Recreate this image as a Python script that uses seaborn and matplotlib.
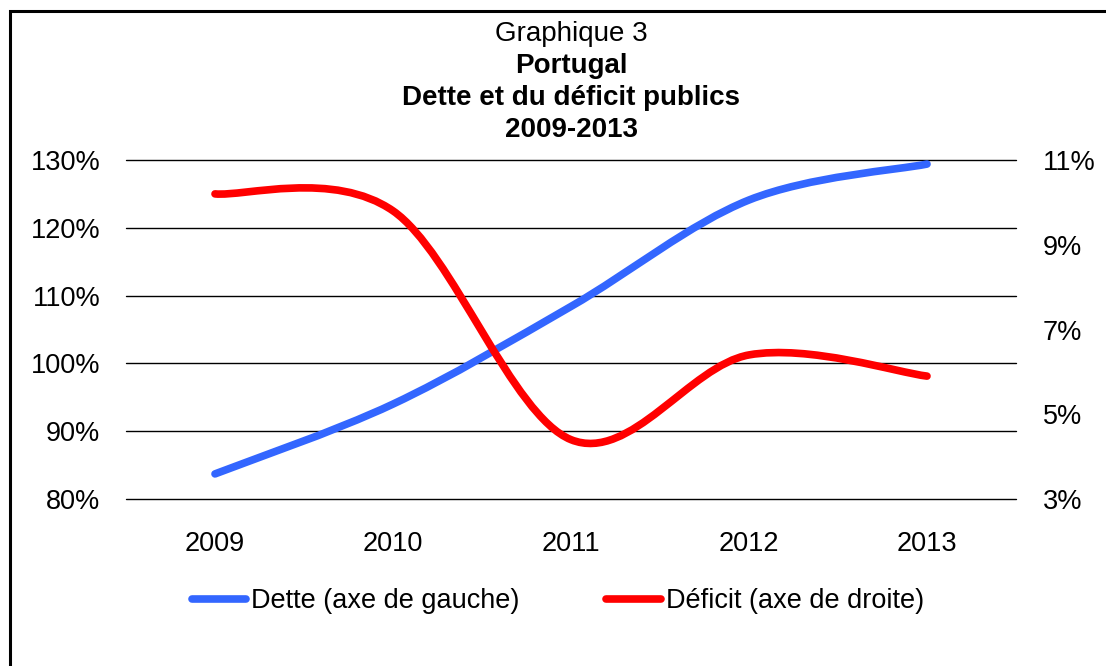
import numpy as np
import matplotlib.pyplot as plt
import seaborn as sns
from matplotlib.path import Path
from matplotlib.patches import PathPatch, Rectangle
from matplotlib.lines import Line2D
from matplotlib.ticker import FuncFormatter

# Portugal, dette et déficit publics (% du PIB)
years = ["2009", "2010", "2011", "2012", "2013"]
dette = [83.7, 94.0, 108.4, 124.1, 129.4]
deficit = [10.2, 9.8, 4.4, 6.4, 5.9]

blue = "#3366FF"
red = "#FF0000"

sns.set_theme(style="white")
plt.rcParams["font.family"] = ["Liberation Sans", "DejaVu Sans"]
plt.rcParams["text.color"] = "black"
plt.rcParams["xtick.color"] = "black"
plt.rcParams["ytick.color"] = "black"


def smooth_path(xs, ys):
    # Excel-like smoothed line: cubic Bezier through the data points
    pts = np.column_stack([xs, ys]).astype(float)
    n = len(pts)
    verts = [pts[0]]
    codes = [Path.MOVETO]
    for i in range(n - 1):
        p0 = pts[max(i - 1, 0)]
        p1 = pts[i]
        p2 = pts[i + 1]
        p3 = pts[min(i + 2, n - 1)]
        verts += [p1 + (p2 - p0) / 6, p2 - (p3 - p1) / 6, p2]
        codes += [Path.CURVE4] * 3
    return Path(verts, codes)


W, H = 1106, 666
fig = plt.figure(figsize=(W / 100, H / 100), dpi=100)
ax = fig.add_axes([126 / W, 1 - 499 / H, 890 / W, 339 / H])
x = np.arange(len(years))

ax.set_xlim(-0.5, len(years) - 0.5)
ax.set_ylim(80, 130)
ax.set_yticks(range(80, 131, 10))
ax.yaxis.set_major_formatter(FuncFormatter(lambda v, p: f"{v:.0f}%"))
ax.set_xticks(x)
ax.set_xticklabels(years)
ax.grid(False)
ax.yaxis.grid(True, color="black", lw=1.0)
for gl in ax.get_ygridlines():
    gl.set_clip_on(False)
ax.set_axisbelow(True)
ax.tick_params(axis="y", length=0, labelsize=19.5, pad=18.5)
ax.tick_params(axis="x", length=0, labelsize=19.5, pad=23)
for s in ax.spines.values():
    s.set_visible(False)

ax2 = ax.twinx()
ax2.set_ylim(3, 11)
ax2.set_yticks([3, 5, 7, 9, 11])
ax2.yaxis.set_major_formatter(FuncFormatter(lambda v, p: f"{v:.0f}%"))
ax2.grid(False)
ax2.tick_params(axis="y", length=0, labelsize=19.5, pad=19.5)
for s in ax2.spines.values():
    s.set_visible(False)

ax.add_patch(PathPatch(smooth_path(x, dette), facecolor="none", edgecolor=blue,
                       lw=5.5, capstyle="round", joinstyle="round"))
ax2.add_patch(PathPatch(smooth_path(x, deficit), facecolor="none", edgecolor=red,
                        lw=5.5, capstyle="round", joinstyle="round"))

# titles
cx = 571 / W
fig.text(cx, 1 - 34 / H, "Graphique 3", ha="center", va="center", fontsize=20)
fig.text(cx, 1 - 66 / H, "Portugal", ha="center", va="center", fontsize=20, fontweight="bold")
fig.text(cx, 1 - 98 / H, "Dette et du déficit publics", ha="center", va="center",
         fontsize=20, fontweight="bold")
fig.text(cx, 1 - 130 / H, "2009-2013", ha="center", va="center", fontsize=20, fontweight="bold")

handles = [Line2D([], [], color=blue, lw=5.5, solid_capstyle="round"),
           Line2D([], [], color=red, lw=5.5, solid_capstyle="round")]
fig.legend(handles, ["Dette (axe de gauche)", "Déficit (axe de droite)"],
           loc="center", bbox_to_anchor=(558 / W, 1 - 601 / H), ncol=2, frameon=False,
           fontsize=19.5, handlelength=2.0, handletextpad=0.2, columnspacing=3.2)

# outer frame (cropped at right and bottom)
fig.add_artist(Rectangle((9.5 / W, -0.2), 1.2, 1.2 - 10.5 / H, transform=fig.transFigure,
                         fill=False, edgecolor="black", lw=2.2))

fig.savefig("out.png", dpi=100)
